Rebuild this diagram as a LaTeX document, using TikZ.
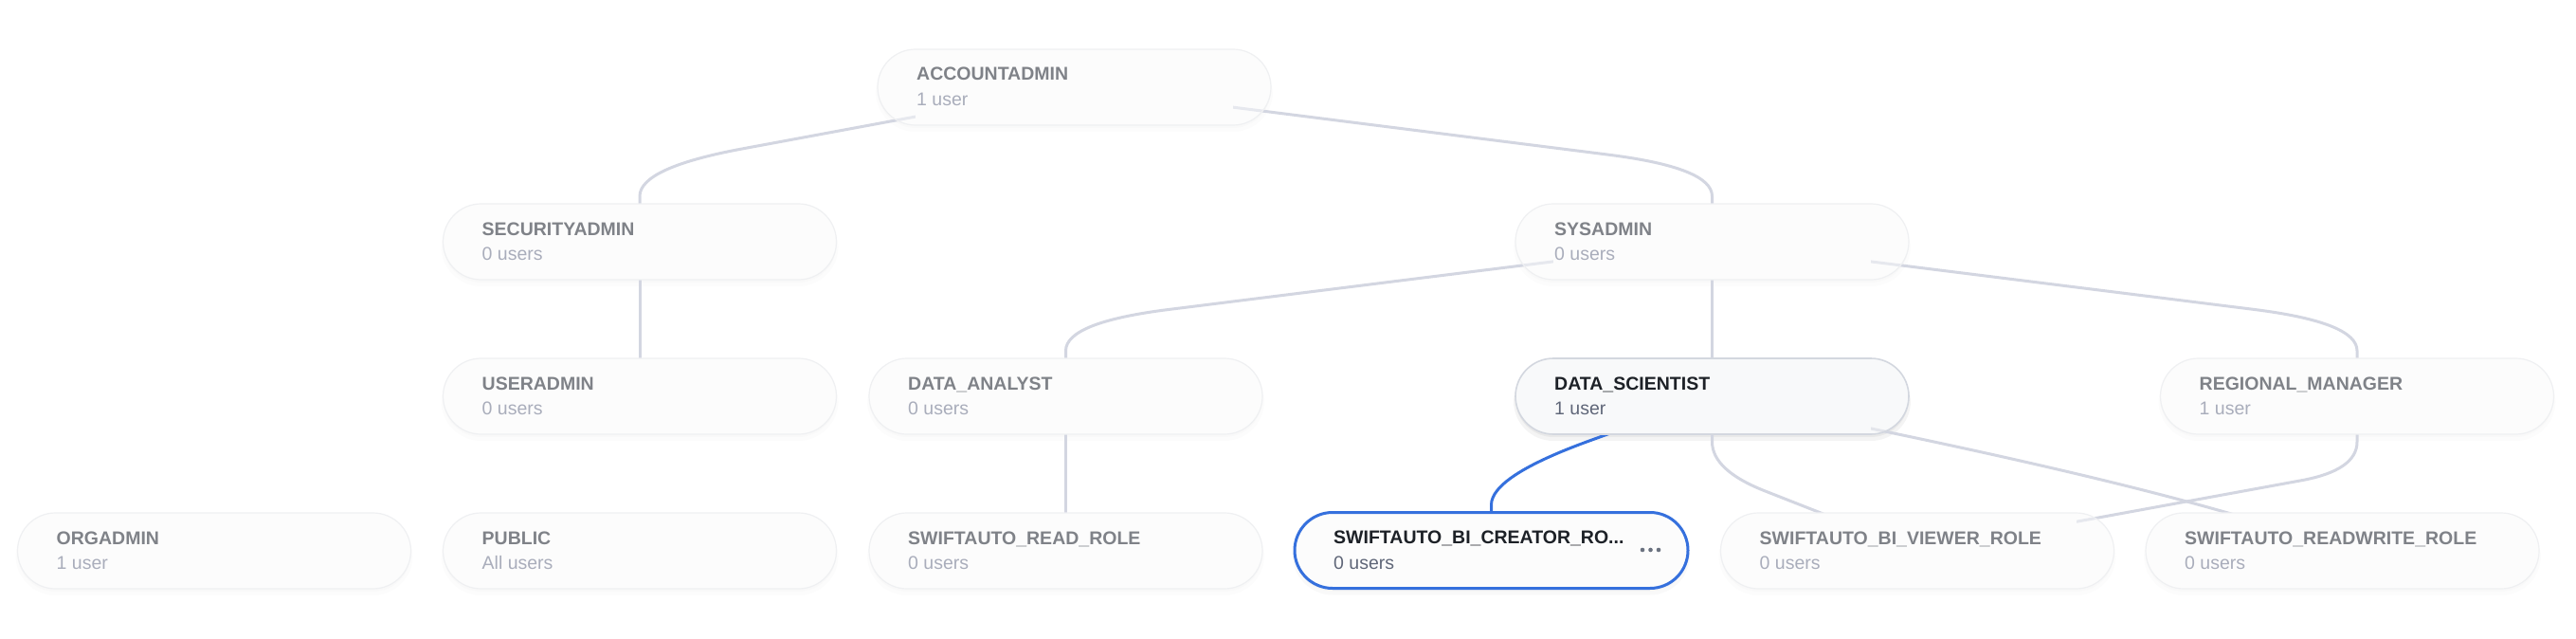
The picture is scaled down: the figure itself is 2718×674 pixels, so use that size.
\documentclass[tikz,border=0pt]{standalone}
\usepackage{fontspec}
\setmainfont{Liberation Sans}
\usetikzlibrary{calc}
\definecolor{edgec}{HTML}{D3D6E1}
\definecolor{bluec}{HTML}{3570DD}
\definecolor{nodefill}{HTML}{FAFAFB}
\definecolor{dsfill}{HTML}{F3F4F6}
\definecolor{nodeborder}{HTML}{EFF0F2}
\definecolor{dsborder}{HTML}{D3D7DF}
\definecolor{titlec}{HTML}{7F8288}
\definecolor{subc}{HTML}{A9ADBB}
\definecolor{darkc}{HTML}{1D2127}
\definecolor{darksub}{HTML}{5F6678}
\definecolor{dotc}{HTML}{6B7280}
\pgfdeclarelayer{back}
\pgfdeclarelayer{shadow}
\pgfdeclarelayer{edges}
\pgfdeclarelayer{inner}
\pgfsetlayers{back,shadow,edges,inner,main}
\tikzset{
  rolebase/.style={rectangle, rounded corners=40pt, minimum width=415pt, minimum height=80pt,
    inner sep=0pt, outer sep=0pt, fill opacity=0.5},
  normbox/.style={rolebase, draw=nodeborder, line width=1.2pt, fill=nodefill},
  dsbox/.style={rolebase, draw=dsborder, line width=1.6pt, fill=dsfill},
  selbox/.style={rolebase, draw=bluec, line width=3pt, fill=nodefill},
  titlebase/.style={anchor=base west, inner sep=0pt, font=\fontsize{19.5}{22}\selectfont\bfseries},
  normtitle/.style={titlebase, text=titlec},
  dstitle/.style={titlebase, text=darkc},
  seltitle/.style={titlebase, text=darkc},
  subbase/.style={anchor=base west, inner sep=0pt, font=\fontsize{19.5}{22}\selectfont},
  normsub/.style={subbase, text=subc},
  dssub/.style={subbase, text=darksub},
  selsub/.style={subbase, text=darksub},
  normshadow/.style={opacity=0.012},
  dsshadow/.style={opacity=0.045},
  selshadow/.style={opacity=0.025},
  edge/.style={draw=edgec, line width=3pt},
  blueedge/.style={draw=bluec, line width=3pt},
}
% #1 name, #2 position, #3 title, #4 subtitle, #5 variant
\newcommand\rolenode[5]{%
  \node[#5box] (#1) at (#2) {};
  \node[#5title] (#1-t) at ($(#1.west)+(41,-7)$) {#3};
  \node[#5sub] (#1-s) at ($(#1.west)+(41,19.5)$) {#4};
  \begin{pgfonlayer}{inner}
    \fill[white] ($(#1.south west)+(40,0)$) rectangle ($(#1.north east)+(-40,0)$);
  \end{pgfonlayer}
  \begin{pgfonlayer}{shadow}
    \begin{scope}[even odd rule]
      \clip (-50,-50) rectangle (2800,750)
        [rounded corners=40pt] (#1.south west) rectangle (#1.north east);
      \fill[black,#5shadow,rounded corners=40pt] ($(#1.south west)+(0,3)$) rectangle ($(#1.north east)+(0,3)$);
      \fill[black,#5shadow,rounded corners=42pt] ($(#1.south west)+(-2,7)$) rectangle ($(#1.north east)+(2,5)$);
    \end{scope}
  \end{pgfonlayer}
}
% edge that leaves the parent at an angle and reaches the child vertically
\newcommand\topedge[3][edge]{%
  \coordinate (tk) at ($(#3.north)+(0,-38)$);
  \coordinate (ta) at ($(tk)!110pt!(#2.center)$);
  \coordinate (tb) at ($(#3.north)+(0,-8)$);
  \draw[#1] (#2.center) -- (ta) .. controls ($(ta)!2/3!(tk)$) and ($(tb)!2/3!(tk)$) .. (tb) -- (#3.center);
}
% edge that leaves the parent vertically and reaches the child at an angle
\newcommand\botedge[2]{%
  \coordinate (bk) at ($(#1.south)+(0,38)$);
  \coordinate (bb) at ($(#1.south)+(0,8)$);
  \coordinate (ba) at ($(bk)!60pt!(#2.center)$);
  \draw[edge] (#1.center) -- (bb) .. controls ($(bb)!2/3!(bk)$) and ($(ba)!2/3!(bk)$) .. (ba) -- (#2.center);
}
\begin{document}
\begin{tikzpicture}[x=1pt,y=-1pt]
\begin{pgfonlayer}{back}
  \fill[white] (0,0) rectangle (2718,674);
\end{pgfonlayer}
\useasboundingbox (0,0) rectangle (2718,674);

\rolenode{acc}{1133.5,92}{ACCOUNTADMIN}{1 user}{norm}
\rolenode{sec}{675,255}{SECURITYADMIN}{0 users}{norm}
\rolenode{sys}{1806.5,255}{SYSADMIN}{0 users}{norm}
\rolenode{usr}{675,418}{USERADMIN}{0 users}{norm}
\rolenode{da}{1124.5,418}{DATA\_ANALYST}{0 users}{norm}
\rolenode{ds}{1806.5,418}{DATA\_SCIENTIST}{1 user}{ds}
\rolenode{rm}{2487,418}{REGIONAL\_MANAGER}{1 user}{norm}
\rolenode{org}{226,581}{ORGADMIN}{1 user}{norm}
\rolenode{pub}{675,581}{PUBLIC}{All users}{norm}
\rolenode{read}{1124.5,581}{SWIFTAUTO\_READ\_ROLE}{0 users}{norm}
\rolenode{bic}{1573.5,580.5}{SWIFTAUTO\_BI\_CREATOR\_RO...}{0 users}{sel}
\rolenode{biv}{2023,581}{SWIFTAUTO\_BI\_VIEWER\_ROLE}{0 users}{norm}
\rolenode{rw}{2471.5,581}{SWIFTAUTO\_READWRITE\_ROLE}{0 users}{norm}

\foreach \dx in {-48,-39.5,-31}
  \fill[dotc] ($(bic.east)+(\dx,-0.5)$) circle (2.3pt);

\begin{pgfonlayer}{edges}
  \topedge{acc}{sec}
  \topedge{acc}{sys}
  \draw[edge] (sec.center) -- (usr.center);
  \topedge{sys}{da}
  \draw[edge] (sys.center) -- (ds.center);
  \topedge{sys}{rm}
  \draw[edge] (da.center) -- (read.center);
  \botedge{ds}{biv}
  \draw[edge] (ds.center) .. controls ($(ds.center)+(200,40)$) and ($(rw.center)+(-150,-60)$) .. (rw.center);
  \botedge{rm}{biv}
  \topedge[blueedge]{ds}{bic}
\end{pgfonlayer}
\end{tikzpicture}
\end{document}
